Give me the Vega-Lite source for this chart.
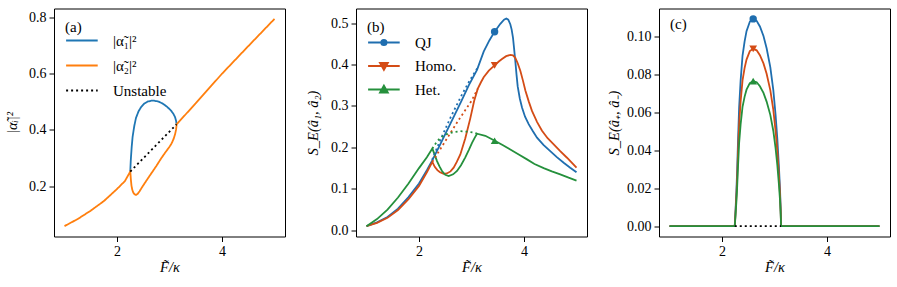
{
  "$schema": "https://vega.github.io/schema/vega-lite/v6.json",
  "padding": {"left": 4, "top": 7.5, "right": 0, "bottom": 0},
  "spacing": 18,
  "config": {
    "font": "Liberation Serif",
    "view": {"stroke": "black", "strokeWidth": 1},
    "axis": {"labelFont": "Liberation Serif", "labelFontSize": 14, "labelColor": "black", "titleFont": "Liberation Serif", "titleFontSize": 14.5, "titleFontWeight": "normal", "titleColor": "black", "tickColor": "black", "tickSize": 5, "labelPadding": 3, "grid": false, "domain": false},
    "legend": {"labelFont": "Liberation Serif", "labelFontSize": 15, "labelColor": "black", "titleFont": "Liberation Serif", "titleFontSize": 15, "titleFontWeight": "normal", "titleColor": "black", "orient": "top-left", "offset": 11, "padding": 0, "symbolSize": 250, "symbolStrokeWidth": 1.8, "labelOffset": 30, "rowPadding": 8, "titlePadding": -3},
    "line": {"strokeWidth": 1.8}
  },
  "datasets": {
    "a": [
      {"s": "|α̃₁|²", "k": 1, "x": 2.253, "y": 0.252},
      {"s": "|α̃₁|²", "k": 2, "x": 2.257, "y": 0.27},
      {"s": "|α̃₁|²", "k": 3, "x": 2.262, "y": 0.29},
      {"s": "|α̃₁|²", "k": 4, "x": 2.267, "y": 0.305},
      {"s": "|α̃₁|²", "k": 5, "x": 2.28, "y": 0.34},
      {"s": "|α̃₁|²", "k": 6, "x": 2.297, "y": 0.375},
      {"s": "|α̃₁|²", "k": 7, "x": 2.33, "y": 0.415},
      {"s": "|α̃₁|²", "k": 8, "x": 2.362, "y": 0.443},
      {"s": "|α̃₁|²", "k": 9, "x": 2.41, "y": 0.466},
      {"s": "|α̃₁|²", "k": 10, "x": 2.457, "y": 0.481},
      {"s": "|α̃₁|²", "k": 11, "x": 2.52, "y": 0.494},
      {"s": "|α̃₁|²", "k": 12, "x": 2.583, "y": 0.501},
      {"s": "|α̃₁|²", "k": 13, "x": 2.65, "y": 0.504},
      {"s": "|α̃₁|²", "k": 14, "x": 2.71, "y": 0.504},
      {"s": "|α̃₁|²", "k": 15, "x": 2.79, "y": 0.501},
      {"s": "|α̃₁|²", "k": 16, "x": 2.869, "y": 0.494},
      {"s": "|α̃₁|²", "k": 17, "x": 2.95, "y": 0.483},
      {"s": "|α̃₁|²", "k": 18, "x": 3.029, "y": 0.469},
      {"s": "|α̃₁|²", "k": 19, "x": 3.075, "y": 0.457},
      {"s": "|α̃₁|²", "k": 20, "x": 3.105, "y": 0.446},
      {"s": "|α̃₁|²", "k": 21, "x": 3.125, "y": 0.433},
      {"s": "|α̃₁|²", "k": 22, "x": 3.135, "y": 0.42},
      {"s": "|α̃₂|²", "k": 1, "x": 1.0, "y": 0.058},
      {"s": "|α̃₂|²", "k": 2, "x": 1.25, "y": 0.083},
      {"s": "|α̃₂|²", "k": 3, "x": 1.5, "y": 0.113},
      {"s": "|α̃₂|²", "k": 4, "x": 1.75, "y": 0.147},
      {"s": "|α̃₂|²", "k": 5, "x": 2.0, "y": 0.19},
      {"s": "|α̃₂|²", "k": 6, "x": 2.15, "y": 0.218},
      {"s": "|α̃₂|²", "k": 7, "x": 2.253, "y": 0.252},
      {"s": "|α̃₂|²", "k": 8, "x": 2.258, "y": 0.24},
      {"s": "|α̃₂|²", "k": 9, "x": 2.265, "y": 0.222},
      {"s": "|α̃₂|²", "k": 10, "x": 2.275, "y": 0.203},
      {"s": "|α̃₂|²", "k": 11, "x": 2.29, "y": 0.188},
      {"s": "|α̃₂|²", "k": 12, "x": 2.31, "y": 0.177},
      {"s": "|α̃₂|²", "k": 13, "x": 2.335, "y": 0.171},
      {"s": "|α̃₂|²", "k": 14, "x": 2.362, "y": 0.169},
      {"s": "|α̃₂|²", "k": 15, "x": 2.395, "y": 0.173},
      {"s": "|α̃₂|²", "k": 16, "x": 2.43, "y": 0.182},
      {"s": "|α̃₂|²", "k": 17, "x": 2.48, "y": 0.197},
      {"s": "|α̃₂|²", "k": 18, "x": 2.55, "y": 0.217},
      {"s": "|α̃₂|²", "k": 19, "x": 2.648, "y": 0.244},
      {"s": "|α̃₂|²", "k": 20, "x": 2.75, "y": 0.272},
      {"s": "|α̃₂|²", "k": 21, "x": 2.838, "y": 0.298},
      {"s": "|α̃₂|²", "k": 22, "x": 2.92, "y": 0.32},
      {"s": "|α̃₂|²", "k": 23, "x": 2.996, "y": 0.339},
      {"s": "|α̃₂|²", "k": 24, "x": 3.04, "y": 0.352},
      {"s": "|α̃₂|²", "k": 25, "x": 3.078, "y": 0.368},
      {"s": "|α̃₂|²", "k": 26, "x": 3.105, "y": 0.384},
      {"s": "|α̃₂|²", "k": 27, "x": 3.124, "y": 0.4},
      {"s": "|α̃₂|²", "k": 28, "x": 3.132, "y": 0.412},
      {"s": "|α̃₂|²", "k": 29, "x": 3.135, "y": 0.42},
      {"s": "|α̃₂|²", "k": 30, "x": 3.5, "y": 0.495},
      {"s": "|α̃₂|²", "k": 31, "x": 4.0, "y": 0.6},
      {"s": "|α̃₂|²", "k": 32, "x": 4.5, "y": 0.698},
      {"s": "|α̃₂|²", "k": 33, "x": 5.0, "y": 0.795},
      {"s": "Unstable", "k": 1, "x": 2.253, "y": 0.252},
      {"s": "Unstable", "k": 2, "x": 3.135, "y": 0.42}
    ],
    "b": [
      {"s": "QJ", "b": "s", "k": 1, "x": 1.0, "y": 0.01},
      {"s": "QJ", "b": "s", "k": 2, "x": 1.2, "y": 0.019},
      {"s": "QJ", "b": "s", "k": 3, "x": 1.4, "y": 0.032},
      {"s": "QJ", "b": "s", "k": 4, "x": 1.6, "y": 0.052},
      {"s": "QJ", "b": "s", "k": 5, "x": 1.8, "y": 0.08},
      {"s": "QJ", "b": "s", "k": 6, "x": 2.0, "y": 0.113},
      {"s": "QJ", "b": "s", "k": 7, "x": 2.15, "y": 0.145},
      {"s": "QJ", "b": "s", "k": 8, "x": 2.25, "y": 0.168},
      {"s": "QJ", "b": "s", "k": 9, "x": 2.4, "y": 0.206},
      {"s": "QJ", "b": "s", "k": 10, "x": 2.6, "y": 0.258},
      {"s": "QJ", "b": "s", "k": 11, "x": 2.8, "y": 0.31},
      {"s": "QJ", "b": "s", "k": 12, "x": 2.95, "y": 0.35},
      {"s": "QJ", "b": "s", "k": 13, "x": 3.105, "y": 0.387},
      {"s": "QJ", "b": "s", "k": 14, "x": 3.232, "y": 0.431},
      {"s": "QJ", "b": "s", "k": 15, "x": 3.34, "y": 0.458},
      {"s": "QJ", "b": "s", "k": 16, "x": 3.434, "y": 0.478},
      {"s": "QJ", "b": "s", "k": 17, "x": 3.549, "y": 0.498},
      {"s": "QJ", "b": "s", "k": 18, "x": 3.62, "y": 0.508},
      {"s": "QJ", "b": "s", "k": 19, "x": 3.663, "y": 0.511},
      {"s": "QJ", "b": "s", "k": 20, "x": 3.7, "y": 0.508},
      {"s": "QJ", "b": "s", "k": 21, "x": 3.739, "y": 0.497},
      {"s": "QJ", "b": "s", "k": 22, "x": 3.765, "y": 0.484},
      {"s": "QJ", "b": "s", "k": 23, "x": 3.79, "y": 0.465},
      {"s": "QJ", "b": "s", "k": 24, "x": 3.81, "y": 0.44},
      {"s": "QJ", "b": "s", "k": 25, "x": 3.834, "y": 0.409},
      {"s": "QJ", "b": "s", "k": 26, "x": 3.857, "y": 0.376},
      {"s": "QJ", "b": "s", "k": 27, "x": 3.88, "y": 0.347},
      {"s": "QJ", "b": "s", "k": 28, "x": 3.92, "y": 0.318},
      {"s": "QJ", "b": "s", "k": 29, "x": 3.962, "y": 0.296},
      {"s": "QJ", "b": "s", "k": 30, "x": 4.02, "y": 0.274},
      {"s": "QJ", "b": "s", "k": 31, "x": 4.089, "y": 0.256},
      {"s": "QJ", "b": "s", "k": 32, "x": 4.17, "y": 0.239},
      {"s": "QJ", "b": "s", "k": 33, "x": 4.248, "y": 0.2235},
      {"s": "QJ", "b": "s", "k": 34, "x": 4.37, "y": 0.206},
      {"s": "QJ", "b": "s", "k": 35, "x": 4.5, "y": 0.191},
      {"s": "QJ", "b": "s", "k": 36, "x": 4.62, "y": 0.177},
      {"s": "QJ", "b": "s", "k": 37, "x": 4.756, "y": 0.163},
      {"s": "QJ", "b": "s", "k": 38, "x": 4.88, "y": 0.151},
      {"s": "QJ", "b": "s", "k": 39, "x": 5.0, "y": 0.14},
      {"s": "QJ", "b": "u", "k": 1, "x": 2.25, "y": 0.17},
      {"s": "QJ", "b": "u", "k": 2, "x": 2.4, "y": 0.216},
      {"s": "QJ", "b": "u", "k": 3, "x": 2.6, "y": 0.272},
      {"s": "QJ", "b": "u", "k": 4, "x": 2.8, "y": 0.323},
      {"s": "QJ", "b": "u", "k": 5, "x": 2.95, "y": 0.358},
      {"s": "QJ", "b": "u", "k": 6, "x": 3.135, "y": 0.396},
      {"s": "Homo.", "b": "s", "k": 1, "x": 1.0, "y": 0.01},
      {"s": "Homo.", "b": "s", "k": 2, "x": 1.2, "y": 0.018},
      {"s": "Homo.", "b": "s", "k": 3, "x": 1.4, "y": 0.03},
      {"s": "Homo.", "b": "s", "k": 4, "x": 1.6, "y": 0.049},
      {"s": "Homo.", "b": "s", "k": 5, "x": 1.8, "y": 0.075},
      {"s": "Homo.", "b": "s", "k": 6, "x": 2.0, "y": 0.107},
      {"s": "Homo.", "b": "s", "k": 7, "x": 2.15, "y": 0.14},
      {"s": "Homo.", "b": "s", "k": 8, "x": 2.254, "y": 0.165},
      {"s": "Homo.", "b": "s", "k": 9, "x": 2.3, "y": 0.153},
      {"s": "Homo.", "b": "s", "k": 10, "x": 2.35, "y": 0.145},
      {"s": "Homo.", "b": "s", "k": 11, "x": 2.4, "y": 0.14},
      {"s": "Homo.", "b": "s", "k": 12, "x": 2.47, "y": 0.136},
      {"s": "Homo.", "b": "s", "k": 13, "x": 2.53, "y": 0.137},
      {"s": "Homo.", "b": "s", "k": 14, "x": 2.6, "y": 0.142},
      {"s": "Homo.", "b": "s", "k": 15, "x": 2.66, "y": 0.151},
      {"s": "Homo.", "b": "s", "k": 16, "x": 2.72, "y": 0.165},
      {"s": "Homo.", "b": "s", "k": 17, "x": 2.787, "y": 0.183},
      {"s": "Homo.", "b": "s", "k": 18, "x": 2.882, "y": 0.222},
      {"s": "Homo.", "b": "s", "k": 19, "x": 2.977, "y": 0.27},
      {"s": "Homo.", "b": "s", "k": 20, "x": 3.05, "y": 0.312},
      {"s": "Homo.", "b": "s", "k": 21, "x": 3.118, "y": 0.341},
      {"s": "Homo.", "b": "s", "k": 22, "x": 3.18, "y": 0.357},
      {"s": "Homo.", "b": "s", "k": 23, "x": 3.232, "y": 0.369},
      {"s": "Homo.", "b": "s", "k": 24, "x": 3.33, "y": 0.385},
      {"s": "Homo.", "b": "s", "k": 25, "x": 3.434, "y": 0.397},
      {"s": "Homo.", "b": "s", "k": 26, "x": 3.52, "y": 0.407},
      {"s": "Homo.", "b": "s", "k": 27, "x": 3.581, "y": 0.413},
      {"s": "Homo.", "b": "s", "k": 28, "x": 3.66, "y": 0.42},
      {"s": "Homo.", "b": "s", "k": 29, "x": 3.739, "y": 0.423},
      {"s": "Homo.", "b": "s", "k": 30, "x": 3.79, "y": 0.422},
      {"s": "Homo.", "b": "s", "k": 31, "x": 3.834, "y": 0.416},
      {"s": "Homo.", "b": "s", "k": 32, "x": 3.88, "y": 0.403},
      {"s": "Homo.", "b": "s", "k": 33, "x": 3.93, "y": 0.385},
      {"s": "Homo.", "b": "s", "k": 34, "x": 3.98, "y": 0.361},
      {"s": "Homo.", "b": "s", "k": 35, "x": 4.026, "y": 0.337},
      {"s": "Homo.", "b": "s", "k": 36, "x": 4.09, "y": 0.311},
      {"s": "Homo.", "b": "s", "k": 37, "x": 4.152, "y": 0.288},
      {"s": "Homo.", "b": "s", "k": 38, "x": 4.25, "y": 0.261},
      {"s": "Homo.", "b": "s", "k": 39, "x": 4.343, "y": 0.24},
      {"s": "Homo.", "b": "s", "k": 40, "x": 4.45, "y": 0.222},
      {"s": "Homo.", "b": "s", "k": 41, "x": 4.566, "y": 0.2075},
      {"s": "Homo.", "b": "s", "k": 42, "x": 4.69, "y": 0.191},
      {"s": "Homo.", "b": "s", "k": 43, "x": 4.819, "y": 0.175},
      {"s": "Homo.", "b": "s", "k": 44, "x": 5.0, "y": 0.151},
      {"s": "Homo.", "b": "u", "k": 1, "x": 2.254, "y": 0.165},
      {"s": "Homo.", "b": "u", "k": 2, "x": 2.5, "y": 0.215},
      {"s": "Homo.", "b": "u", "k": 3, "x": 2.75, "y": 0.265},
      {"s": "Homo.", "b": "u", "k": 4, "x": 3.0, "y": 0.312},
      {"s": "Homo.", "b": "u", "k": 5, "x": 3.118, "y": 0.341},
      {"s": "Het.", "b": "s", "k": 1, "x": 1.0, "y": 0.01},
      {"s": "Het.", "b": "s", "k": 2, "x": 1.2, "y": 0.027},
      {"s": "Het.", "b": "s", "k": 3, "x": 1.4, "y": 0.05},
      {"s": "Het.", "b": "s", "k": 4, "x": 1.6, "y": 0.079},
      {"s": "Het.", "b": "s", "k": 5, "x": 1.8, "y": 0.113},
      {"s": "Het.", "b": "s", "k": 6, "x": 2.0, "y": 0.15},
      {"s": "Het.", "b": "s", "k": 7, "x": 2.15, "y": 0.176},
      {"s": "Het.", "b": "s", "k": 8, "x": 2.254, "y": 0.197},
      {"s": "Het.", "b": "s", "k": 9, "x": 2.3, "y": 0.182},
      {"s": "Het.", "b": "s", "k": 10, "x": 2.343, "y": 0.167},
      {"s": "Het.", "b": "s", "k": 11, "x": 2.39, "y": 0.154},
      {"s": "Het.", "b": "s", "k": 12, "x": 2.438, "y": 0.143},
      {"s": "Het.", "b": "s", "k": 13, "x": 2.5, "y": 0.134},
      {"s": "Het.", "b": "s", "k": 14, "x": 2.565, "y": 0.131},
      {"s": "Het.", "b": "s", "k": 15, "x": 2.65, "y": 0.135},
      {"s": "Het.", "b": "s", "k": 16, "x": 2.724, "y": 0.143},
      {"s": "Het.", "b": "s", "k": 17, "x": 2.8, "y": 0.157},
      {"s": "Het.", "b": "s", "k": 18, "x": 2.882, "y": 0.176},
      {"s": "Het.", "b": "s", "k": 19, "x": 2.95, "y": 0.194},
      {"s": "Het.", "b": "s", "k": 20, "x": 3.01, "y": 0.211},
      {"s": "Het.", "b": "s", "k": 21, "x": 3.06, "y": 0.223},
      {"s": "Het.", "b": "s", "k": 22, "x": 3.105, "y": 0.233},
      {"s": "Het.", "b": "s", "k": 23, "x": 3.263, "y": 0.228},
      {"s": "Het.", "b": "s", "k": 24, "x": 3.453, "y": 0.2155},
      {"s": "Het.", "b": "s", "k": 25, "x": 3.6, "y": 0.205},
      {"s": "Het.", "b": "s", "k": 26, "x": 3.739, "y": 0.195},
      {"s": "Het.", "b": "s", "k": 27, "x": 3.9, "y": 0.183},
      {"s": "Het.", "b": "s", "k": 28, "x": 4.057, "y": 0.171},
      {"s": "Het.", "b": "s", "k": 29, "x": 4.2, "y": 0.16},
      {"s": "Het.", "b": "s", "k": 30, "x": 4.375, "y": 0.15},
      {"s": "Het.", "b": "s", "k": 31, "x": 4.53, "y": 0.142},
      {"s": "Het.", "b": "s", "k": 32, "x": 4.69, "y": 0.135},
      {"s": "Het.", "b": "s", "k": 33, "x": 4.85, "y": 0.127},
      {"s": "Het.", "b": "s", "k": 34, "x": 5.0, "y": 0.12},
      {"s": "Het.", "b": "u", "k": 1, "x": 2.254, "y": 0.197},
      {"s": "Het.", "b": "u", "k": 2, "x": 2.33, "y": 0.212},
      {"s": "Het.", "b": "u", "k": 3, "x": 2.406, "y": 0.223},
      {"s": "Het.", "b": "u", "k": 4, "x": 2.53, "y": 0.232},
      {"s": "Het.", "b": "u", "k": 5, "x": 2.66, "y": 0.237},
      {"s": "Het.", "b": "u", "k": 6, "x": 2.79, "y": 0.239},
      {"s": "Het.", "b": "u", "k": 7, "x": 2.914, "y": 0.238},
      {"s": "Het.", "b": "u", "k": 8, "x": 3.02, "y": 0.236},
      {"s": "Het.", "b": "u", "k": 9, "x": 3.105, "y": 0.233}
    ],
    "bm": [
      {"s": "QJ", "x": 3.44, "y": 0.479},
      {"s": "Homo.", "x": 3.44, "y": 0.398},
      {"s": "Het.", "x": 3.44, "y": 0.216}
    ],
    "c": [
      {"s": "QJ", "k": 1, "x": 1.0, "y": 0},
      {"s": "QJ", "k": 2, "x": 2.243, "y": 0},
      {"s": "QJ", "k": 3, "x": 2.252, "y": 0.005},
      {"s": "QJ", "k": 4, "x": 2.262, "y": 0.011},
      {"s": "QJ", "k": 5, "x": 2.275, "y": 0.019},
      {"s": "QJ", "k": 6, "x": 2.287, "y": 0.028},
      {"s": "QJ", "k": 7, "x": 2.305, "y": 0.045},
      {"s": "QJ", "k": 8, "x": 2.326, "y": 0.0625},
      {"s": "QJ", "k": 9, "x": 2.355, "y": 0.077},
      {"s": "QJ", "k": 10, "x": 2.391, "y": 0.09},
      {"s": "QJ", "k": 11, "x": 2.43, "y": 0.0975},
      {"s": "QJ", "k": 12, "x": 2.467, "y": 0.103},
      {"s": "QJ", "k": 13, "x": 2.53, "y": 0.108},
      {"s": "QJ", "k": 14, "x": 2.594, "y": 0.1095},
      {"s": "QJ", "k": 15, "x": 2.66, "y": 0.1085},
      {"s": "QJ", "k": 16, "x": 2.722, "y": 0.1055},
      {"s": "QJ", "k": 17, "x": 2.79, "y": 0.1005},
      {"s": "QJ", "k": 18, "x": 2.85, "y": 0.094},
      {"s": "QJ", "k": 19, "x": 2.92, "y": 0.084},
      {"s": "QJ", "k": 20, "x": 2.977, "y": 0.072},
      {"s": "QJ", "k": 21, "x": 3.02, "y": 0.059},
      {"s": "QJ", "k": 22, "x": 3.054, "y": 0.046},
      {"s": "QJ", "k": 23, "x": 3.085, "y": 0.031},
      {"s": "QJ", "k": 24, "x": 3.105, "y": 0.0195},
      {"s": "QJ", "k": 25, "x": 3.118, "y": 0.009},
      {"s": "QJ", "k": 26, "x": 3.125, "y": 0},
      {"s": "QJ", "k": 27, "x": 5.0, "y": 0},
      {"s": "Homo.", "k": 1, "x": 1.0, "y": 0},
      {"s": "Homo.", "k": 2, "x": 2.243, "y": 0},
      {"s": "Homo.", "k": 3, "x": 2.252, "y": 0.0043},
      {"s": "Homo.", "k": 4, "x": 2.262, "y": 0.0094},
      {"s": "Homo.", "k": 5, "x": 2.275, "y": 0.0163},
      {"s": "Homo.", "k": 6, "x": 2.287, "y": 0.024},
      {"s": "Homo.", "k": 7, "x": 2.305, "y": 0.0385},
      {"s": "Homo.", "k": 8, "x": 2.326, "y": 0.0535},
      {"s": "Homo.", "k": 9, "x": 2.355, "y": 0.066},
      {"s": "Homo.", "k": 10, "x": 2.391, "y": 0.077},
      {"s": "Homo.", "k": 11, "x": 2.43, "y": 0.0835},
      {"s": "Homo.", "k": 12, "x": 2.467, "y": 0.088},
      {"s": "Homo.", "k": 13, "x": 2.53, "y": 0.0925},
      {"s": "Homo.", "k": 14, "x": 2.594, "y": 0.0937},
      {"s": "Homo.", "k": 15, "x": 2.66, "y": 0.0929},
      {"s": "Homo.", "k": 16, "x": 2.722, "y": 0.0903},
      {"s": "Homo.", "k": 17, "x": 2.79, "y": 0.086},
      {"s": "Homo.", "k": 18, "x": 2.85, "y": 0.0805},
      {"s": "Homo.", "k": 19, "x": 2.92, "y": 0.0719},
      {"s": "Homo.", "k": 20, "x": 2.977, "y": 0.0616},
      {"s": "Homo.", "k": 21, "x": 3.02, "y": 0.0505},
      {"s": "Homo.", "k": 22, "x": 3.054, "y": 0.0394},
      {"s": "Homo.", "k": 23, "x": 3.085, "y": 0.0265},
      {"s": "Homo.", "k": 24, "x": 3.105, "y": 0.0167},
      {"s": "Homo.", "k": 25, "x": 3.118, "y": 0.0077},
      {"s": "Homo.", "k": 26, "x": 3.125, "y": 0},
      {"s": "Homo.", "k": 27, "x": 5.0, "y": 0},
      {"s": "Het.", "k": 1, "x": 1.0, "y": 0},
      {"s": "Het.", "k": 2, "x": 2.243, "y": 0},
      {"s": "Het.", "k": 3, "x": 2.252, "y": 0.0035},
      {"s": "Het.", "k": 4, "x": 2.262, "y": 0.0077},
      {"s": "Het.", "k": 5, "x": 2.275, "y": 0.0133},
      {"s": "Het.", "k": 6, "x": 2.287, "y": 0.0196},
      {"s": "Het.", "k": 7, "x": 2.305, "y": 0.0315},
      {"s": "Het.", "k": 8, "x": 2.326, "y": 0.0438},
      {"s": "Het.", "k": 9, "x": 2.355, "y": 0.0539},
      {"s": "Het.", "k": 10, "x": 2.391, "y": 0.063},
      {"s": "Het.", "k": 11, "x": 2.43, "y": 0.0683},
      {"s": "Het.", "k": 12, "x": 2.467, "y": 0.0721},
      {"s": "Het.", "k": 13, "x": 2.53, "y": 0.0756},
      {"s": "Het.", "k": 14, "x": 2.594, "y": 0.0766},
      {"s": "Het.", "k": 15, "x": 2.66, "y": 0.076},
      {"s": "Het.", "k": 16, "x": 2.722, "y": 0.0739},
      {"s": "Het.", "k": 17, "x": 2.79, "y": 0.0704},
      {"s": "Het.", "k": 18, "x": 2.85, "y": 0.0658},
      {"s": "Het.", "k": 19, "x": 2.92, "y": 0.0588},
      {"s": "Het.", "k": 20, "x": 2.977, "y": 0.0504},
      {"s": "Het.", "k": 21, "x": 3.02, "y": 0.0413},
      {"s": "Het.", "k": 22, "x": 3.054, "y": 0.0322},
      {"s": "Het.", "k": 23, "x": 3.085, "y": 0.0217},
      {"s": "Het.", "k": 24, "x": 3.105, "y": 0.0137},
      {"s": "Het.", "k": 25, "x": 3.118, "y": 0.0063},
      {"s": "Het.", "k": 26, "x": 3.125, "y": 0},
      {"s": "Het.", "k": 27, "x": 5.0, "y": 0}
    ],
    "cu": [
      {"x": 2.243, "y": 0},
      {"x": 3.125, "y": 0}
    ],
    "cm": [
      {"s": "QJ", "x": 2.594, "y": 0.1095},
      {"s": "Homo.", "x": 2.594, "y": 0.0937},
      {"s": "Het.", "x": 2.594, "y": 0.0766}
    ]
  },
  "resolve": {"scale": {"color": "independent", "strokeDash": "independent", "shape": "independent"}},
  "hconcat": [
    {
      "width": 231,
      "height": 228,
      "data": {"name": "a"},
      "mark": {"type": "line", "strokeWidth": 1.8},
      "encoding": {
        "x": {"field": "x", "type": "quantitative", "scale": {"domain": [0.8, 5.2], "nice": false, "zero": false}, "axis": {"values": [2, 4], "format": "d", "title": "F̃/κ", "titleFontStyle": "italic", "titlePadding": 2}},
        "y": {"field": "y", "type": "quantitative", "scale": {"domain": [0.021, 0.832], "nice": false, "zero": false}, "axis": {"values": [0.2, 0.4, 0.6, 0.8], "format": ".1f", "title": "|α̃ᵢ|²", "titleFontStyle": "italic", "titlePadding": 9}},
        "color": {"field": "s", "type": "nominal", "scale": {"domain": ["|α̃₁|²", "|α̃₂|²", "Unstable"], "range": ["#1f77b4", "#ff7f0e", "#000000"]}, "legend": {"title": "(a)", "symbolType": "M-1,0L3,0", "rowPadding": 8}},
        "strokeDash": {"field": "s", "type": "nominal", "scale": {"domain": ["|α̃₁|²", "|α̃₂|²", "Unstable"], "range": [[1, 0], [1, 0], [2, 3]]}, "legend": {"title": "(a)", "symbolType": "M-1,0L3,0", "rowPadding": 8}},
        "order": {"field": "k", "type": "quantitative"}
      }
    },
    {
      "width": 231,
      "height": 228,
      "layer": [
        {
          "data": {"name": "bm"},
          "transform": [{"filter": "false"}],
          "mark": {"type": "point", "filled": false, "strokeWidth": 1.8, "opacity": 1},
          "encoding": {
            "x": {"field": "x", "type": "quantitative", "scale": {"domain": [0.8, 5.2], "nice": false, "zero": false}, "axis": {"values": [2, 4], "format": "d", "title": "F̃/κ", "titleFontStyle": "italic", "titlePadding": 2}},
            "y": {"field": "y", "type": "quantitative", "scale": {"domain": [-0.015, 0.535], "nice": false, "zero": false}, "axis": {"values": [0, 0.1, 0.2, 0.3, 0.4, 0.5], "format": ".1f", "title": "S_E(â₁, â₂)", "titleFontStyle": "italic", "titlePadding": 10.5}},
            "color": {"field": "s", "type": "nominal", "scale": {"domain": ["QJ", "Homo.", "Het."], "range": ["#1f6eaf", "#d44c16", "#25903c"]}, "legend": {"title": "(b)", "rowPadding": 6.5, "titlePadding": -1}},
            "shape": {"field": "s", "type": "nominal", "scale": {"domain": ["QJ", "Homo.", "Het."], "range": [
              "M-1,0L3,0M0.66,0A0.34,0.34,0,1,1,1.34,0A0.34,0.34,0,1,1,0.66,0M0.82,0A0.18,0.18,0,1,1,1.18,0A0.18,0.18,0,1,1,0.82,0M0.94,0A0.06,0.06,0,1,1,1.06,0A0.06,0.06,0,1,1,0.94,0",
              "M-1,0L3,0M0.5,-0.4L1.5,-0.4L1,0.5ZM0.775,-0.238L1.225,-0.238L1,0.167ZM0.94,-0.141L1.06,-0.141L1,-0.033Z",
              "M-1,0L3,0M0.5,0.4L1.5,0.4L1,-0.5ZM0.775,0.238L1.225,0.238L1,-0.167ZM0.94,0.141L1.06,0.141L1,0.033Z"
            ]}, "legend": {"title": "(b)", "rowPadding": 6.5, "titlePadding": -1}}
          }
        },
        {
          "data": {"name": "b"},
          "transform": [{"filter": "datum.b == 's'"}],
          "mark": {"type": "line", "strokeWidth": 1.8},
          "encoding": {
            "x": {"field": "x", "type": "quantitative"},
            "y": {"field": "y", "type": "quantitative"},
            "color": {"field": "s", "type": "nominal", "legend": null},
            "order": {"field": "k", "type": "quantitative"}
          }
        },
        {
          "data": {"name": "b"},
          "transform": [{"filter": "datum.b == 'u'"}],
          "mark": {"type": "line", "strokeWidth": 1.8, "strokeDash": [2, 3]},
          "encoding": {
            "x": {"field": "x", "type": "quantitative"},
            "y": {"field": "y", "type": "quantitative"},
            "color": {"field": "s", "type": "nominal", "legend": null},
            "order": {"field": "k", "type": "quantitative"}
          }
        },
        {
          "data": {"name": "bm"},
          "transform": [{"filter": "datum.s == 'QJ'"}],
          "mark": {"type": "point", "filled": true, "shape": "circle", "size": 55, "opacity": 1},
          "encoding": {
            "x": {"field": "x", "type": "quantitative"},
            "y": {"field": "y", "type": "quantitative"},
            "color": {"field": "s", "type": "nominal", "legend": null}
          }
        },
        {
          "data": {"name": "bm"},
          "transform": [{"filter": "datum.s == 'Homo.'"}],
          "mark": {"type": "point", "filled": true, "shape": "triangle-down", "size": 60, "opacity": 1},
          "encoding": {
            "x": {"field": "x", "type": "quantitative"},
            "y": {"field": "y", "type": "quantitative"},
            "color": {"field": "s", "type": "nominal", "legend": null}
          }
        },
        {
          "data": {"name": "bm"},
          "transform": [{"filter": "datum.s == 'Het.'"}],
          "mark": {"type": "point", "filled": true, "shape": "triangle-up", "size": 60, "opacity": 1},
          "encoding": {
            "x": {"field": "x", "type": "quantitative"},
            "y": {"field": "y", "type": "quantitative"},
            "color": {"field": "s", "type": "nominal", "legend": null}
          }
        }
      ]
    },
    {
      "width": 231,
      "height": 228,
      "title": {"text": "(c)", "anchor": "start", "frame": "group", "offset": -23, "dx": 11, "fontSize": 15, "font": "Liberation Serif", "fontWeight": "normal", "color": "black"},
      "layer": [
        {
          "data": {"name": "c"},
          "mark": {"type": "line", "strokeWidth": 1.8},
          "encoding": {
            "x": {"field": "x", "type": "quantitative", "scale": {"domain": [0.8, 5.2], "nice": false, "zero": false}, "axis": {"values": [2, 4], "format": "d", "title": "F̃/κ", "titleFontStyle": "italic", "titlePadding": 2}},
            "y": {"field": "y", "type": "quantitative", "scale": {"domain": [-0.0055, 0.115], "nice": false, "zero": false}, "axis": {"values": [0, 0.02, 0.04, 0.06, 0.08, 0.1], "format": ".2f", "title": "S_E(â₊, â₋)", "titleFontStyle": "italic", "titlePadding": 5}},
            "color": {"field": "s", "type": "nominal", "scale": {"domain": ["QJ", "Homo.", "Het."], "range": ["#1f6eaf", "#d44c16", "#25903c"]}, "legend": null},
            "order": {"field": "k", "type": "quantitative"}
          }
        },
        {
          "data": {"name": "cu"},
          "mark": {"type": "line", "strokeWidth": 1.8, "strokeDash": [2, 3], "color": "black"},
          "encoding": {
            "x": {"field": "x", "type": "quantitative"},
            "y": {"field": "y", "type": "quantitative"}
          }
        },
        {
          "data": {"name": "cm"},
          "transform": [{"filter": "datum.s == 'QJ'"}],
          "mark": {"type": "point", "filled": true, "shape": "circle", "size": 55, "opacity": 1},
          "encoding": {
            "x": {"field": "x", "type": "quantitative"},
            "y": {"field": "y", "type": "quantitative"},
            "color": {"field": "s", "type": "nominal", "legend": null}
          }
        },
        {
          "data": {"name": "cm"},
          "transform": [{"filter": "datum.s == 'Homo.'"}],
          "mark": {"type": "point", "filled": true, "shape": "triangle-down", "size": 60, "opacity": 1},
          "encoding": {
            "x": {"field": "x", "type": "quantitative"},
            "y": {"field": "y", "type": "quantitative"},
            "color": {"field": "s", "type": "nominal", "legend": null}
          }
        },
        {
          "data": {"name": "cm"},
          "transform": [{"filter": "datum.s == 'Het.'"}],
          "mark": {"type": "point", "filled": true, "shape": "triangle-up", "size": 60, "opacity": 1},
          "encoding": {
            "x": {"field": "x", "type": "quantitative"},
            "y": {"field": "y", "type": "quantitative"},
            "color": {"field": "s", "type": "nominal", "legend": null}
          }
        }
      ]
    }
  ]
}
